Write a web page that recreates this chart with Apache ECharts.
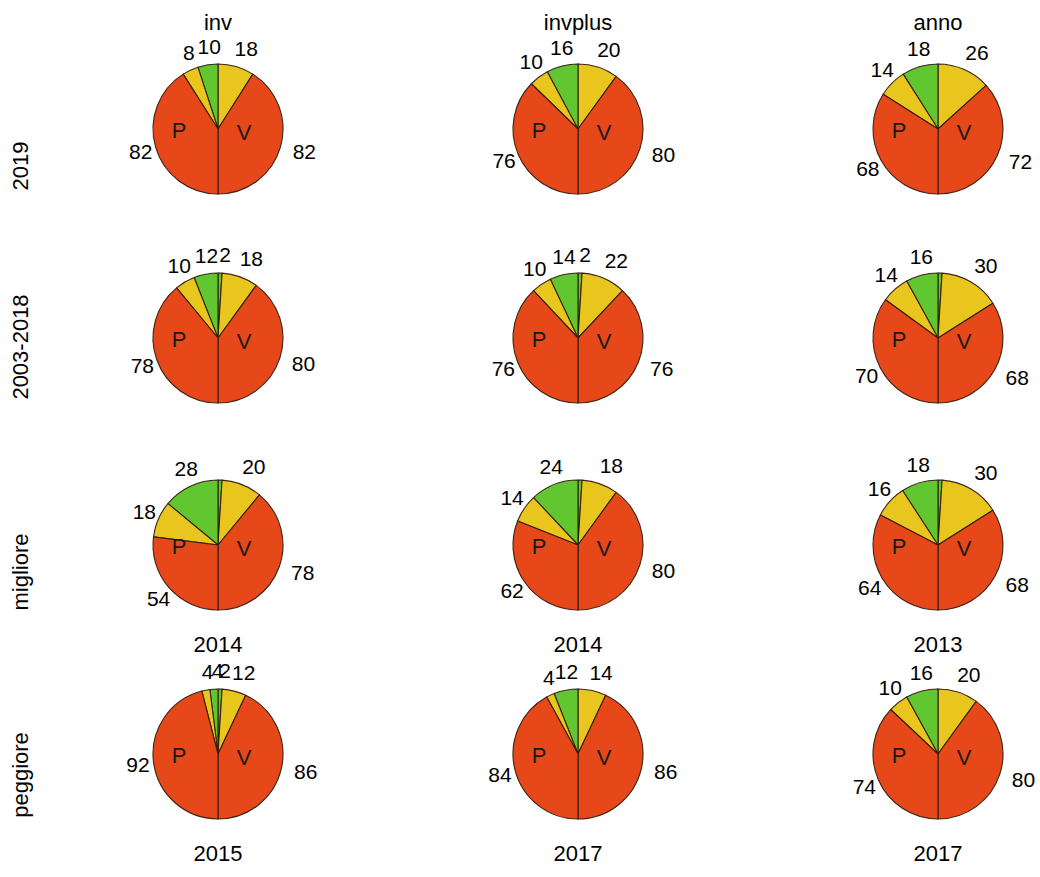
<!DOCTYPE html>
<html><head><meta charset="utf-8">
<script src="https://cdn.jsdelivr.net/npm/echarts@6/dist/echarts.min.js"></script>
<style>html,body{margin:0;padding:0;background:#fff}#c{width:1040px;height:877px}</style>
</head><body><div id="c"></div>
<script>
// ---- data ----
const columns = ['inv', 'invplus', 'anno'];
const rowNames = ['2019', '2003-2018', 'migliore', 'peggiore'];
const yearLabels = [['', '', ''], ['', '', ''], ['2014', '2014', '2013'], ['2015', '2017', '2017']];
// V half (right side), clockwise from the top: green, yellow, red
const vGreen  = [[0, 0, 0], [2, 2, 2], [2, 2, 2], [2, 0, 0]];
const vYellow = [[18, 20, 26], [18, 22, 30], [20, 18, 30], [12, 14, 20]];
const vRed    = [[82, 80, 72], [80, 76, 68], [78, 80, 68], [86, 86, 80]];
// P half (left side), counter-clockwise from the top: green, yellow, red
const pGreen  = [[10, 16, 18], [12, 14, 16], [28, 24, 18], [4, 12, 16]];
const pYellow = [[8, 10, 14], [10, 10, 14], [18, 14, 16], [4, 4, 10]];
const pRed    = [[82, 76, 68], [78, 76, 70], [54, 62, 64], [92, 84, 74]];
// whether the small green V share has its number printed
const vGreenPrinted = [[false, false, false], [true, true, false], [false, false, false], [true, false, false]];

// ---- layout / style ----
const colX = [218, 578, 938];
const rowY = [129, 338, 545, 754];
const R = 65;
const FONT = 'Arial, "Liberation Sans", sans-serif';
const COLORS = { green: '#62C631', yellow: '#E8C61E', red: '#E7481A' };
const BORDER = 'rgba(50,28,16,0.95)';

const series = [];
const graphics = [];

function makeHalf(r, c, side) {
  const vals = side === 'V'
    ? [vGreen[r][c], vYellow[r][c], vRed[r][c]]
    : [pGreen[r][c], pYellow[r][c], pRed[r][c]];
  const names = ['green', 'yellow', 'red'];
  const total = vals.reduce((a, b) => a + b, 0);
  const cx = colX[c], cy = rowY[r];
  const mids = [];
  let cum = 0;
  vals.forEach(v => { mids.push((cum + v / 2) / total * Math.PI * (side === 'V' ? 1 : -1)); cum += v; });
  const data = vals.map((v, k) => {
    let show = v > 0;
    if (side === 'V' && k === 0 && !vGreenPrinted[r][c]) show = false;
    return { value: v, name: names[k], itemStyle: { color: COLORS[names[k]] }, label: { show } };
  });
  series.push({
    type: 'pie',
    center: [cx, cy],
    radius: R,
    startAngle: 90,
    endAngle: side === 'V' ? -90 : 270,
    clockwise: side === 'V',
    avoidLabelOverlap: false,
    silent: true,
    itemStyle: { borderColor: BORDER, borderWidth: 1.1 },
    label: {
      position: 'outside', formatter: '{c}', fontSize: 21, lineHeight: 21, color: '#000',
      fontFamily: FONT
    },
    labelLine: { show: false, length: 6, length2: 0 },
    labelLayout: function (p) {
      const a = mids[p.dataIndex];
      const s = Math.sin(a), co = Math.cos(a);
      const w = p.labelRect.width, h = p.labelRect.height;
      const gap = 6;
      return {
        x: cx + (R + gap) * s + s * w / 2 + 4.5 + 2.5 * s,
        y: cy - (R + gap) * co - co * h / 2 - (co > 0 ? 2.5 * co : 0),
        align: 'center', verticalAlign: 'middle'
      };
    },
    data
  });
}

for (let r = 0; r < rowNames.length; r++) {
  for (let c = 0; c < columns.length; c++) {
    makeHalf(r, c, 'V');
    makeHalf(r, c, 'P');
    graphics.push({ type: 'text', x: colX[c] - 39, y: rowY[r] + 1,
      style: { text: 'P', font: '22px ' + FONT, fill: '#1a1a1a', align: 'center', verticalAlign: 'middle' }, z: 100 });
    graphics.push({ type: 'text', x: colX[c] + 26, y: rowY[r] + 3,
      style: { text: 'V', font: '22px ' + FONT, fill: '#1a1a1a', align: 'center', verticalAlign: 'middle' }, z: 100 });
    if (yearLabels[r][c]) {
      graphics.push({ type: 'text', x: colX[c], y: rowY[r] + 99,
        style: { text: yearLabels[r][c], font: '22px ' + FONT, fill: '#000', align: 'center', verticalAlign: 'middle' } });
    }
  }
}
columns.forEach((t, c) => {
  graphics.push({ type: 'text', x: colX[c], y: 22,
    style: { text: t, font: '22px ' + FONT, fill: '#000', align: 'center', verticalAlign: 'middle' } });
});
const rowLabelY = [166, 347, 572, 775];
rowNames.forEach((t, r) => {
  graphics.push({ type: 'text', x: 20, y: rowLabelY[r], rotation: Math.PI / 2,
    style: { text: t, font: '22px ' + FONT, fill: '#000', align: 'center', verticalAlign: 'middle' } });
});

const chart = echarts.init(document.getElementById('c'), null, { renderer: 'svg', width: 1040, height: 877 });
chart.setOption({
  backgroundColor: '#fff',
  animation: false,
  series,
  graphic: { elements: graphics }
});
</script>
</body></html>
